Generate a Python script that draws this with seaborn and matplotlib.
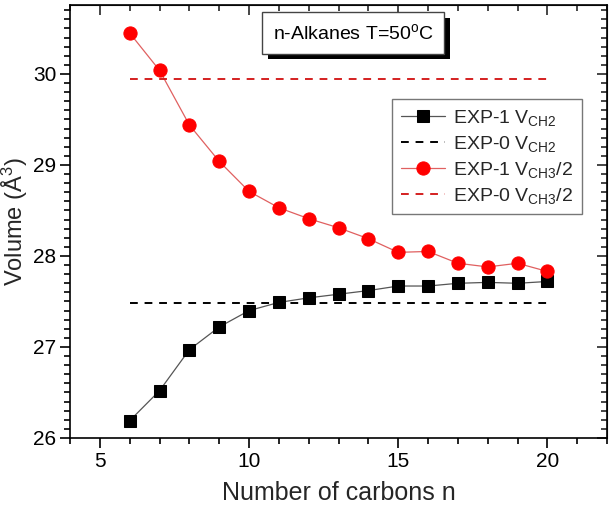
import numpy as np
import pandas as pd
import matplotlib
matplotlib.use("Agg")
import matplotlib.pyplot as plt
import matplotlib.patheffects as pe
from matplotlib.ticker import MultipleLocator
import seaborn as sns

# data
n_carbons = [6, 7, 8, 9, 10, 11, 12, 13, 14, 15, 16, 17, 18, 19, 20]
exp1_vch2 = [26.19, 26.52, 26.97, 27.22, 27.40, 27.49, 27.54, 27.58, 27.62,
             27.67, 27.67, 27.70, 27.71, 27.70, 27.72]
exp1_vch3_half = [30.45, 30.04, 29.44, 29.04, 28.71, 28.53, 28.41, 28.31, 28.19,
                  28.04, 28.05, 27.92, 27.88, 27.92, 27.83]
exp0_vch2 = 27.48
exp0_vch3_half = 29.95

sns.set_style("ticks")
plt.rcParams["font.family"] = ["Liberation Sans", "DejaVu Sans"]
plt.rcParams["mathtext.fontset"] = "custom"
plt.rcParams["mathtext.rm"] = "Liberation Sans"
plt.rcParams["mathtext.it"] = "Liberation Sans:italic"

df = pd.DataFrame({"n": n_carbons, "ch2": exp1_vch2, "ch3": exp1_vch3_half,
                   "ch2_0": [exp0_vch2] * len(n_carbons),
                   "ch3_0": [exp0_vch3_half] * len(n_carbons)})

fig = plt.figure(figsize=(6.11, 5.09), dpi=100)
ax = fig.add_axes([0.1146, 0.1395, 0.879, 0.851])

#EXP-1 CH2 (black squares)
sns.lineplot(data=df, x="n", y="ch2", ax=ax, color="#555555", linewidth=0.9,
             marker="s", markersize=8.5, markerfacecolor="black", markeredgecolor="black",
             label=r"EXP-1 V$_{\rm CH2}$")
#EXP-0 CH2 (black dashed)
sns.lineplot(data=df, x="n", y="ch2_0", ax=ax, color="black", linewidth=1.4,
             label=r"EXP-0 V$_{\rm CH2}$")
#EXP-1 CH3/2 (red circles)
sns.lineplot(data=df, x="n", y="ch3", ax=ax, color="#e06060", linewidth=0.9,
             marker="o", markersize=9.5, markerfacecolor="red", markeredgecolor="red",
             label=r"EXP-1 V$_{\rm CH3}$/2")
#EXP-0 CH3/2 (red dashed)
sns.lineplot(data=df, x="n", y="ch3_0", ax=ax, color="#d42020", linewidth=1.4,
             label=r"EXP-0 V$_{\rm CH3}$/2")
ax.lines[1].set_linestyle((0, (4, 3.5)))
ax.lines[3].set_linestyle((0, (4, 3.5)))

ax.set_xlim(4, 22)
ax.set_ylim(26, 30.76)
ax.xaxis.set_major_locator(MultipleLocator(5))
ax.xaxis.set_minor_locator(MultipleLocator(1))
ax.yaxis.set_major_locator(MultipleLocator(1))
ax.yaxis.set_minor_locator(MultipleLocator(0.1))
ax.tick_params(which="both", direction="out", top=False, right=False, width=1.2, colors="black")
ax.tick_params(which="major", length=7, labelsize=15, pad=3)
ax.tick_params(which="minor", length=4)
for side in ["top", "right", "left", "bottom"]:
    ax.spines[side].set_visible(True)
    ax.spines[side].set_linewidth(1.2)
    ax.spines[side].set_color("black")

# inward ticks on top and right
axt = ax.secondary_xaxis("top")
axt.xaxis.set_major_locator(MultipleLocator(5))
axt.xaxis.set_minor_locator(MultipleLocator(1))
axt.tick_params(which="both", direction="in", labeltop=False, width=1.2)
axt.tick_params(which="major", length=7)
axt.tick_params(which="minor", length=4)
axr = ax.secondary_yaxis("right")
axr.yaxis.set_major_locator(MultipleLocator(1))
axr.yaxis.set_minor_locator(MultipleLocator(0.1))
axr.tick_params(which="both", direction="in", labelright=False, width=1.2)
axr.tick_params(which="major", length=7)
axr.tick_params(which="minor", length=4)

ax.set_xlabel("Number of carbons n", fontsize=18, labelpad=7)
ax.set_ylabel(r"Volume (Å$^3$)", fontsize=17)
ax.yaxis.set_label_coords(-0.074, 0.5)

leg = ax.legend(loc="upper right", bbox_to_anchor=(0.953, 0.782), fontsize=14,
                frameon=True, fancybox=False, handlelength=2.3, borderpad=0.45,
                labelspacing=0.3, handletextpad=0.4, borderaxespad=0)
leg.get_frame().set_edgecolor("#555555")
leg.get_frame().set_linewidth(1.0)

# title box with shadow
t = ax.text(0.527, 0.935, r"n-Alkanes T=50$^{\rm o}$C", transform=ax.transAxes,
            ha="center", va="center", fontsize=14, color="black",
            bbox=dict(boxstyle="square,pad=0.55", facecolor="white", edgecolor="#444444"))
t.get_bbox_patch().set_path_effects([
    pe.SimplePatchShadow(offset=(4, -4), shadow_rgbFace="black", alpha=1.0),
    pe.Normal()])

fig.savefig("out.png", dpi=100)
